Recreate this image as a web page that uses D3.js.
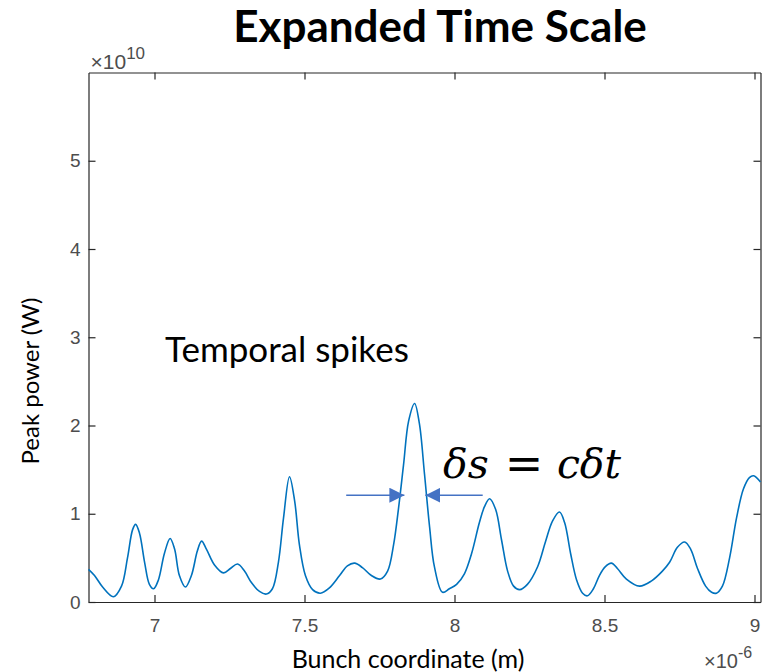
<!DOCTYPE html>
<html>
<head>
<meta charset="utf-8">
<script src="https://cdn.jsdelivr.net/npm/d3@7"></script>
<style>
  html, body { margin: 0; padding: 0; background: #fff; }
  svg { display: block; }
</style>
</head>
<body>
<svg id="chart" width="769" height="672"></svg>
<script>
// Bunch coordinate (µm, axis shows ×10^-6 m)
const coordUm = [
  6.780, 6.800, 6.827, 6.863, 6.890, 6.910, 6.927, 6.937, 6.950, 6.967,
  6.983, 6.997, 7.013, 7.033, 7.052, 7.067, 7.083, 7.103, 7.123, 7.143,
  7.157, 7.173, 7.200, 7.230, 7.253, 7.277, 7.300, 7.323, 7.350, 7.373,
  7.393, 7.413, 7.430, 7.450, 7.467, 7.483, 7.503, 7.527, 7.553, 7.583,
  7.617, 7.643, 7.667, 7.693, 7.723, 7.753, 7.777, 7.797, 7.813, 7.830,
  7.847, 7.867, 7.883, 7.900, 7.917, 7.933, 7.960, 7.983, 8.007, 8.033,
  8.057, 8.083, 8.100, 8.117, 8.137, 8.157, 8.177, 8.197, 8.217, 8.243,
  8.277, 8.303, 8.327, 8.350, 8.367, 8.387, 8.407, 8.427, 8.443, 8.463,
  8.483, 8.503, 8.523, 8.543, 8.573, 8.617, 8.657, 8.693, 8.717, 8.743,
  8.767, 8.787, 8.810, 8.837, 8.857, 8.873, 8.893, 8.917, 8.940, 8.963,
  8.983, 8.997, 9.020
];
// Peak power (×10^10 W)
const powerE10 = [
  0.37, 0.30, 0.17, 0.06, 0.18, 0.50, 0.82, 0.88, 0.78, 0.45,
  0.20, 0.15, 0.25, 0.55, 0.72, 0.60, 0.30, 0.17, 0.30, 0.58,
  0.69, 0.60, 0.42, 0.33, 0.38, 0.43, 0.35, 0.22, 0.12, 0.09,
  0.15, 0.45, 0.95, 1.42, 1.15, 0.65, 0.30, 0.14, 0.10, 0.16,
  0.30, 0.41, 0.44, 0.39, 0.30, 0.26, 0.35, 0.65, 1.05, 1.55,
  2.05, 2.25, 2.02, 1.45, 0.85, 0.40, 0.11, 0.15, 0.20, 0.32,
  0.55, 0.90, 1.08, 1.17, 1.05, 0.70, 0.35, 0.18, 0.14, 0.20,
  0.40, 0.68, 0.92, 1.02, 0.90, 0.55, 0.25, 0.10, 0.07, 0.15,
  0.30, 0.40, 0.44, 0.38, 0.26, 0.18, 0.24, 0.35, 0.45, 0.62,
  0.68, 0.60, 0.38, 0.18, 0.11, 0.10, 0.18, 0.50, 0.95, 1.28,
  1.41, 1.43, 1.36
];
const xTicks = [7, 7.5, 8, 8.5, 9];
const xTickLabels = ["7", "7.5", "8", "8.5", "9"];
const yTicks = [0, 1, 2, 3, 4, 5];
const yTickLabels = ["0", "1", "2", "3", "4", "5"];

// Pulse-width marker: arrows at half maximum of the central spike
const widthLevel = 1.21;
const leftArrow = [7.639, 7.833];
const rightArrow = [8.094, 7.903];

const svg = d3.select("#chart");
const W = 769, H = 672;
const m = { left: 88.5, right: 8.5, top: 72.5, bottom: 70 };
const x = d3.scaleLinear().domain([6.78, 9.02]).range([m.left, W - m.right]);
const y = d3.scaleLinear().domain([0, 6]).range([H - m.bottom, m.top]);

const axisColor = "#262626";
const labelColor = "#4d4d4d";
const tickFont = "'Liberation Sans', Arial, Helvetica, sans-serif";
const textFont = "Lato, 'Open Sans', sans-serif";
const mathFont = "'DejaVu Serif', 'Liberation Serif', serif";

// Title
svg.append("text")
  .attr("x", 440).attr("y", 42)
  .attr("text-anchor", "middle")
  .attr("font-family", textFont).attr("font-weight", 700)
  .attr("font-size", 44).attr("fill", "#000")
  .text("Expanded Time Scale");

// Axes (box with inward ticks on all four sides)
const tickLen = 7;
const gx = svg.append("g").attr("transform", `translate(0,${y(0)})`)
  .call(d3.axisBottom(x).tickValues(xTicks).tickFormat((d, i) => xTickLabels[i])
    .tickSizeInner(-tickLen).tickSizeOuter(0).tickPadding(17));
const gxTop = svg.append("g").attr("transform", `translate(0,${y(6)})`)
  .call(d3.axisTop(x).tickValues(xTicks).tickFormat("")
    .tickSizeInner(-tickLen).tickSizeOuter(0));
const gy = svg.append("g").attr("transform", `translate(${x(6.78)},0)`)
  .call(d3.axisLeft(y).tickValues(yTicks).tickFormat((d, i) => yTickLabels[i])
    .tickSizeInner(-tickLen).tickSizeOuter(0).tickPadding(8));
const gyRight = svg.append("g").attr("transform", `translate(${x(9.02)},0)`)
  .call(d3.axisRight(y).tickValues(yTicks).tickFormat("")
    .tickSizeInner(-tickLen).tickSizeOuter(0));

[gx, gxTop, gy, gyRight].forEach(g => {
  g.select(".domain").attr("stroke", axisColor).attr("stroke-width", 1.2);
  g.selectAll(".tick line").attr("stroke", axisColor).attr("stroke-width", 1.2);
  g.selectAll(".tick text").attr("fill", labelColor)
    .attr("font-family", tickFont).attr("font-size", 19);
});

// Exponent labels
const expTop = svg.append("text")
  .attr("x", x(6.78) + 2).attr("y", y(6) - 4)
  .attr("font-family", tickFont).attr("font-size", 21).attr("fill", labelColor);
expTop.append("tspan").text("\u00d710");
expTop.append("tspan").attr("dy", -10).attr("font-size", 17).text("10");

const expBot = svg.append("text")
  .attr("x", 704).attr("y", 668)
  .attr("font-family", tickFont).attr("font-size", 20).attr("fill", labelColor);
expBot.append("tspan").text("\u00d710");
expBot.append("tspan").attr("dy", -10).attr("font-size", 16).text("-6");

// Axis titles
svg.append("text")
  .attr("x", 408).attr("y", 668)
  .attr("text-anchor", "middle")
  .attr("font-family", textFont).attr("font-size", 25).attr("fill", "#000")
  .text("Bunch coordinate (m)");

svg.append("text")
  .attr("transform", `translate(39,${381}) rotate(-90)`)
  .attr("text-anchor", "middle")
  .attr("font-family", textFont).attr("font-size", 24).attr("fill", "#000")
  .text("Peak power (W)");

// Power trace
const pts = coordUm.map((c, i) => [c, powerE10[i]]);
const line = d3.line()
  .x(d => x(d[0])).y(d => y(d[1]))
  .curve(d3.curveCatmullRom.alpha(0.5));
svg.append("path")
  .datum(pts)
  .attr("d", line)
  .attr("fill", "none")
  .attr("stroke", "#0072BD")
  .attr("stroke-width", 1.6);

// Annotations
svg.append("text")
  .attr("x", 165).attr("y", 362)
  .attr("font-family", textFont).attr("font-size", 35).attr("fill", "#000")
  .text("Temporal spikes");

const eq = svg.append("g")
  .attr("font-family", mathFont).attr("font-style", "italic")
  .attr("font-size", 41).attr("fill", "#000");
eq.append("text").attr("x", 443).attr("y", 478).text("\u03b4s");
eq.append("text").attr("x", 524).attr("y", 479).attr("text-anchor", "middle")
  .attr("font-style", "normal").attr("font-size", 46).text("=");
eq.append("text").attr("x", 621).attr("y", 478).attr("text-anchor", "end").text("c\u03b4t");

const defs = svg.append("defs");
defs.append("marker")
  .attr("id", "arrowHead")
  .attr("viewBox", "0 0 10 10")
  .attr("refX", 10).attr("refY", 5)
  .attr("markerWidth", 15).attr("markerHeight", 15)
  .attr("markerUnits", "userSpaceOnUse")
  .attr("orient", "auto")
  .append("path").attr("d", "M0,0 L10,5 L0,10 Z").attr("fill", "#4472C4");

[leftArrow, rightArrow].forEach(a => {
  svg.append("line")
    .attr("x1", x(a[0])).attr("x2", x(a[1]))
    .attr("y1", y(widthLevel)).attr("y2", y(widthLevel))
    .attr("stroke", "#4472C4").attr("stroke-width", 1.5)
    .attr("marker-end", "url(#arrowHead)");
});
</script>
</body>
</html>
